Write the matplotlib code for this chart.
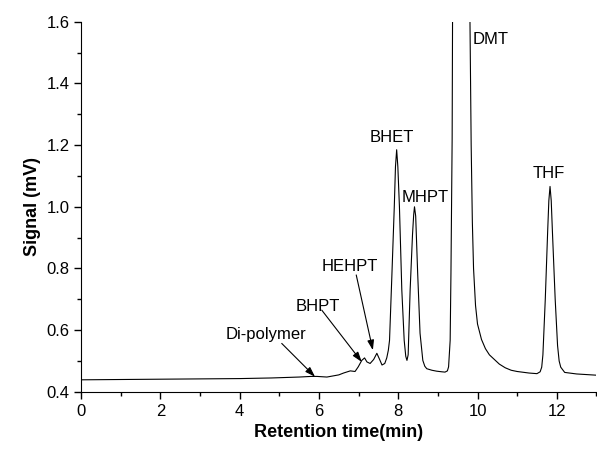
import matplotlib
matplotlib.use("Agg")
import matplotlib.pyplot as plt
from matplotlib.ticker import MultipleLocator

plt.rcParams['font.family'] = ['Liberation Sans', 'DejaVu Sans']

# chromatogram (min, mV); DMT apex is off scale
time = [0.0, 1.0, 2.0, 3.0, 4.0, 4.8, 5.5, 5.8, 5.95, 6.2, 6.5, 6.62, 6.79, 6.91,
        6.99, 7.08, 7.15, 7.21, 7.29, 7.38, 7.46, 7.53, 7.59, 7.66, 7.71, 7.75,
        7.78, 7.84, 7.90, 7.93, 7.96, 7.99, 8.03, 8.09, 8.15, 8.19, 8.22, 8.25,
        8.30, 8.36, 8.39, 8.41, 8.44, 8.49, 8.55, 8.62, 8.67, 8.72, 8.85, 8.97,
        9.10, 9.18, 9.24, 9.27, 9.31, 9.33, 9.36, 9.37, 9.40, 9.58, 9.78, 9.81,
        9.84, 9.87, 9.90, 9.95, 10.0, 10.1, 10.2, 10.3, 10.4, 10.55, 10.7, 10.85,
        11.0, 11.3, 11.5, 11.58, 11.62, 11.65, 11.71, 11.77, 11.80, 11.83, 11.86,
        11.89, 11.96, 12.02, 12.06, 12.1, 12.2, 12.5, 13.0]
signal = [0.439, 0.440, 0.441, 0.442, 0.443, 0.445, 0.448, 0.450, 0.450, 0.448,
          0.455, 0.461, 0.468, 0.466, 0.481, 0.502, 0.510, 0.497, 0.492, 0.505,
          0.525, 0.505, 0.487, 0.492, 0.510, 0.535, 0.567, 0.78, 1.0, 1.13,
          1.185, 1.13, 1.0, 0.73, 0.567, 0.515, 0.502, 0.52, 0.73, 0.91, 0.975,
          1.0, 0.97, 0.785, 0.59, 0.502, 0.483, 0.475, 0.470, 0.467, 0.465,
          0.464, 0.468, 0.481, 0.567, 0.785, 1.22, 1.6, 2.6, 4.5, 2.6, 1.6, 1.2,
          0.95, 0.80, 0.68, 0.62, 0.57, 0.54, 0.52, 0.508, 0.49, 0.478, 0.470,
          0.466, 0.461, 0.459, 0.465, 0.48, 0.52, 0.70, 0.92, 1.02, 1.066, 1.02,
          0.92, 0.70, 0.55, 0.50, 0.48, 0.463, 0.458, 0.454]

peak_names = ["Di-polymer", "BHPT", "HEHPT", "BHET", "MHPT", "DMT", "THF"]
label_x = [4.67, 5.98, 6.79, 7.85, 8.68, 10.32, 11.81]
label_y = [0.587, 0.678, 0.806, 1.224, 1.029, 1.543, 1.108]

# arrows for the small peaks: (start x, start y, tip x, tip y)
arrows = [(5.06, 0.557, 5.90, 0.449),
          (6.07, 0.665, 7.08, 0.497),
          (6.94, 0.779, 7.36, 0.535)]

fig = plt.figure(figsize=(5.97, 4.53), dpi=100)
ax = fig.add_axes([0.136, 0.135, 0.863, 0.817])

ax.plot(time, signal, color='black', lw=0.8)

for name, x, y in zip(peak_names, label_x, label_y):
    ax.text(x, y, name, fontsize=12, ha='center', va='center')

for x0, y0, x1, y1 in arrows:
    ax.annotate('', xy=(x1, y1), xytext=(x0, y0),
                arrowprops=dict(arrowstyle='-|>,head_length=0.6,head_width=0.2',
                                color='black', lw=0.8,
                                mutation_scale=10, shrinkA=0, shrinkB=0))

ax.set_xlim(0, 13)
ax.set_ylim(0.4, 1.6)
ax.xaxis.set_major_locator(MultipleLocator(2))
ax.xaxis.set_minor_locator(MultipleLocator(1))
ax.yaxis.set_major_locator(MultipleLocator(0.2))
ax.yaxis.set_minor_locator(MultipleLocator(0.1))
ax.tick_params(which='major', direction='out', length=5, width=1, labelsize=12)
ax.tick_params(which='minor', direction='out', length=3, width=1)

ax.spines['top'].set_visible(False)
ax.spines['right'].set_visible(False)

ax.set_xlabel("Retention time(min)", fontsize=13, fontweight='bold')
ax.set_ylabel("Signal (mV)", fontsize=13, fontweight='bold')

fig.savefig("out.png", dpi=100)
